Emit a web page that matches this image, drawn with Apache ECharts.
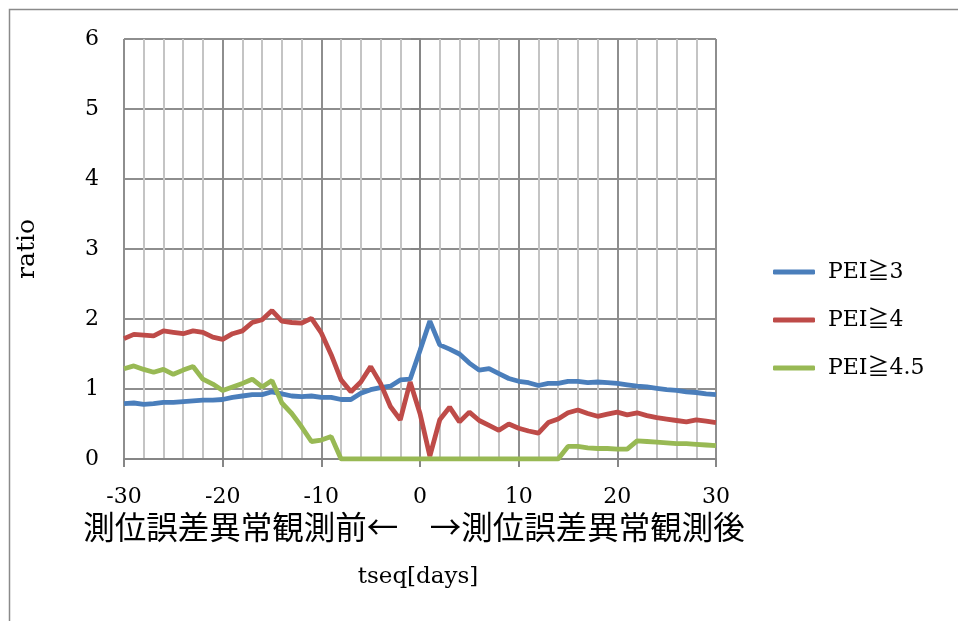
<!DOCTYPE html>
<html><head><meta charset="utf-8">
<script src="https://cdn.jsdelivr.net/npm/echarts@6/dist/echarts.min.js"></script>
<style>html,body{margin:0;padding:0;background:#fff}#c{width:958px;height:621px}</style>
</head><body><div id="c"></div>
<script>
const days = [-30,-29,-28,-27,-26,-25,-24,-23,-22,-21,-20,-19,-18,-17,-16,-15,-14,-13,-12,-11,-10,-9,-8,-7,-6,-5,-4,-3,-2,-1,0,1,2,3,4,5,6,7,8,9,10,11,12,13,14,15,16,17,18,19,20,21,22,23,24,25,26,27,28,29,30];
const pei3 = [0.79,0.80,0.78,0.79,0.81,0.81,0.82,0.83,0.84,0.84,0.85,0.88,0.90,0.92,0.92,
  0.96,0.93,0.90,0.89,0.90,0.88,0.88,0.85,0.85,0.94,0.99,1.02,1.04,1.13,1.14,
  1.55,1.97,1.63,1.57,1.50,1.37,1.27,1.29,1.22,1.15,1.11,1.09,1.05,1.08,1.08,1.11,
  1.11,1.09,1.10,1.09,1.08,1.06,1.04,1.03,1.01,0.99,0.98,0.96,0.95,0.93,0.92];
const pei4 = [1.72,1.78,1.77,1.76,1.83,1.81,1.79,1.83,1.81,1.74,1.71,1.79,1.83,1.95,1.99,
  2.12,1.97,1.95,1.94,2.01,1.80,1.49,1.13,0.96,1.10,1.32,1.08,0.75,0.56,1.10,
  0.65,0.04,0.56,0.74,0.53,0.67,0.55,0.48,0.41,0.50,0.44,0.40,0.37,0.52,0.57,0.66,
  0.70,0.65,0.61,0.64,0.67,0.63,0.66,0.62,0.59,0.57,0.55,0.53,0.56,0.54,0.52];
const pei45 = [1.29,1.33,1.28,1.24,1.28,1.21,1.27,1.32,1.14,1.07,0.98,1.03,1.08,1.14,1.03,
  1.12,0.80,0.65,0.46,0.25,0.27,0.32,0,0,0,0,0,0,0,0,
  0,0,0,0,0,0,0,0,0,0,0,0,0,0,0,0.18,
  0.18,0.16,0.15,0.15,0.14,0.14,0.26,0.25,0.24,0.23,0.22,0.22,0.21,0.20,0.19];
const seriesNames = ['PEI≧3','PEI≧4','PEI≧4.5'];
const xTitle = 'tseq[days]';
const xSubTitle = '測位誤差異常観測前←　→測位誤差異常観測後';
const yTitle = 'ratio';

const serif = '"DejaVu Serif","Liberation Serif","Noto Sans CJK JP",serif';
const colors = ['#4a7ebb','#be4b48','#98b954'];
const pair = arr => days.map((d,i)=>[d,arr[i]]);

const chart = echarts.init(document.getElementById('c'), null, {renderer:'canvas'});
chart.setOption({
  animation:false,
  color:colors,
  grid:{left:124,right:242,top:39,bottom:162,containLabel:false},
  legend:{
    orient:'vertical', left:768, top:255, itemGap:24,
    icon:'roundRect', itemWidth:42, itemHeight:5,
    textStyle:{fontFamily:serif,fontSize:22,color:'#000',lineHeight:24,padding:[0,0,0,8]},
    data:seriesNames
  },
  xAxis:{
    type:'value', min:-30, max:30, interval:10,
    axisLine:{show:true,onZero:false,lineStyle:{color:'#868686',width:2}},
    axisTick:{show:true,length:8,lineStyle:{color:'#868686',width:2}},
    minorTick:{show:false,splitNumber:5},
    axisLabel:{margin:27,fontFamily:serif,fontSize:22,color:'#000'},
    splitLine:{show:true,lineStyle:{color:'#8e8e8e',width:2}},
    minorSplitLine:{show:true,lineStyle:{color:'#c4c4c4',width:2}}
  },
  yAxis:{
    type:'value', min:0, max:6, interval:1,
    name:yTitle, nameLocation:'middle', nameGap:84, nameRotate:90,
    nameTextStyle:{fontFamily:serif,fontSize:25,color:'#000'},
    axisLine:{show:true,lineStyle:{color:'#868686',width:2}},
    axisTick:{show:true,length:9,lineStyle:{color:'#868686',width:2}},
    axisLabel:{margin:25,fontFamily:serif,fontSize:22,color:'#000'},
    splitLine:{show:true,lineStyle:{color:'#8e8e8e',width:2}}
  },
  graphic:[
    {type:'rect',shape:{x:9.5,y:9.5,width:1000,height:1000},style:{fill:'none',stroke:'#8a8a8a',lineWidth:1.5},silent:true,z:-10},
    {type:'text',x:414,y:527,style:{text:xSubTitle,fontFamily:'"Noto Sans CJK JP",sans-serif',fontSize:31.5,fill:'#000',align:'center',verticalAlign:'middle'}},
    {type:'text',x:418,y:577,style:{text:xTitle,fontFamily:serif,fontSize:23,fill:'#000',align:'center',verticalAlign:'middle'}}
  ],
  series:[
    {name:seriesNames[0],type:'line',data:pair(pei3),showSymbol:false,symbol:'none',lineStyle:{width:4.8,color:colors[0]},itemStyle:{color:colors[0]}},
    {name:seriesNames[1],type:'line',data:pair(pei4),showSymbol:false,symbol:'none',lineStyle:{width:4.8,color:colors[1]},itemStyle:{color:colors[1]}},
    {name:seriesNames[2],type:'line',data:pair(pei45),showSymbol:false,symbol:'none',lineStyle:{width:4.8,color:colors[2]},itemStyle:{color:colors[2]}}
  ]
});
</script></body></html>
